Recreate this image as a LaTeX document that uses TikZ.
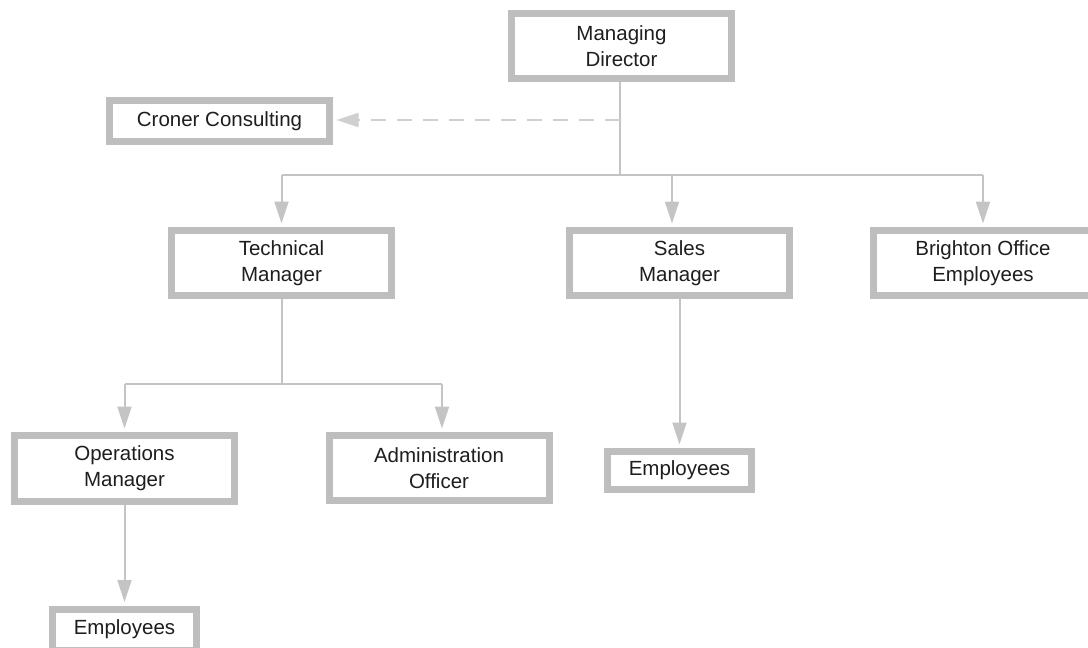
\documentclass[tikz,border=0pt]{standalone}
\usepackage{fontspec}
\setmainfont{Liberation Sans}
\usetikzlibrary{arrows.meta}
\definecolor{boxgray}{HTML}{BEBEBE}
\definecolor{linegray}{HTML}{C4C4C4}
\definecolor{dashgray}{HTML}{D0D0D0}
\definecolor{txt}{HTML}{1E1E1E}
\begin{document}
\begin{tikzpicture}[x=1pt,y=-1pt,
  box/.style={draw=boxgray, line width=7pt, fill=white, align=center, text=txt,
    font=\fontsize{20.5}{26}\selectfont, inner sep=0pt,
    minimum width=#1, minimum height=65pt},
  box/.default=220pt,
  conn/.style={draw=linegray, line width=2pt},
  arr/.style={conn, -{Triangle[length=22pt,width=14pt]}, shorten >=3.5pt},
  dashconn/.style={draw=dashgray, line width=2pt, dash pattern=on 15pt off 11pt,
    -{Triangle[length=22pt,width=14pt]}, shorten >=3.5pt}]
\useasboundingbox (0,0) rectangle (1088,648);
\clip (0,0) rectangle (1088,648);
\node[box] (md) at (621.5,46) {Managing\\Director};
\node[box, minimum height=41pt] (cc) at (219.5,121) {Croner Consulting};
\node[box] (tm) at (281.5,263) {Technical\\Manager};
\node[box] (sm) at (679.5,263) {Sales\\Manager};
\node[box=219pt] (bo) at (983,263) {Brighton Office\\Employees};
\node[box, minimum height=66pt] (om) at (124.5,468.5) {Operations\\Manager};
\node[box] (ao) at (439,468) {Administration\\Officer};
\node[box=144pt, minimum height=38pt] (se) at (679.5,470.5) {Employees};
\node[box=144pt, minimum height=41pt] (oe) at (124.5,629.5) {Employees};
% top level
\coordinate (j1) at (620,175);
\coordinate (jd) at (620,120);
\coordinate (sa) at (672,175);
\draw[conn] (md.south -| j1) -- (j1);
\draw[dashconn] (jd) -- (jd -| cc.east);
\draw[conn] (tm.north |- j1) -- (bo.north |- j1);
\draw[arr] (tm.north |- j1) -- (tm.north);
\draw[arr] (sa) -- (sa |- sm.north);
\draw[arr] (bo.north |- j1) -- (bo.north);
% technical manager
\coordinate (j2) at (281.5,384);
\coordinate (aa) at (442,384);
\draw[conn] (tm.south) -- (j2);
\draw[conn] (om.north |- j2) -- (aa);
\draw[arr] (om.north |- j2) -- (om.north);
\draw[arr] (aa) -- (aa |- ao.north);
% sales and operations
\draw[arr] (sm.south) -- (se.north);
\draw[arr] (om.south) -- (oe.north);
\end{tikzpicture}
\end{document}
